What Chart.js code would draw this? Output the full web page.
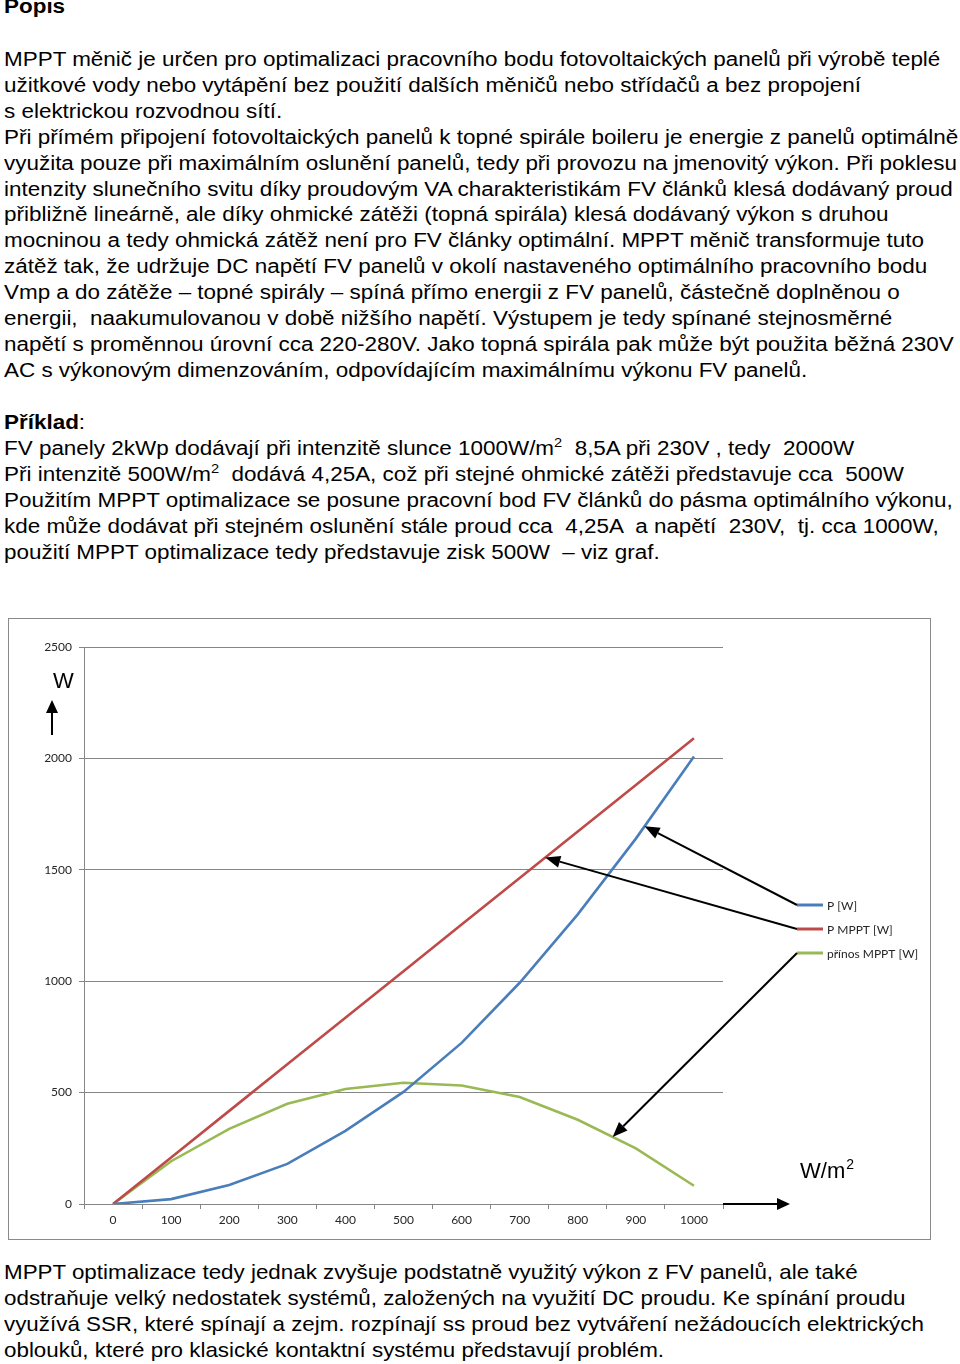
<!DOCTYPE html>
<html>
<head>
<meta charset="utf-8">
<script src="https://cdn.jsdelivr.net/npm/chart.js@4.4.1/dist/chart.umd.min.js"></script>
<style>
  html, body { margin: 0; padding: 0; background: #fff; }
  body { width: 960px; height: 1364px; position: relative; overflow: hidden; font-family: "Liberation Sans", Arial, sans-serif; color: #000; }
  .txt { position: absolute; left: 4px; font-size: 20px; line-height: 25.9px; white-space: pre; transform-origin: 0 0; transform: scaleX(1.122); }
  .txt sup { font-size: 13px; line-height: 0; vertical-align: 8px; }
  .last { font-size: 21px; transform: scaleX(1.065); }
  #box { position: absolute; left: 8px; top: 618px; width: 923px; height: 622px; border: 1px solid #8a8a8a; box-sizing: border-box; }
</style>
</head>
<body>
<div class="txt" style="top:-6px;font-weight:bold;">Popis</div>
<div class="txt" style="top:47px;">MPPT měnič je určen pro optimalizaci pracovního bodu fotovoltaických panelů při výrobě teplé
užitkové vody nebo vytápění bez použití dalších měničů nebo střídačů a bez propojení
s elektrickou rozvodnou sítí.
Při přímém připojení fotovoltaických panelů k topné spirále boileru je energie z panelů optimálně
využita pouze při maximálním oslunění panelů, tedy při provozu na jmenovitý výkon. Při poklesu
intenzity slunečního svitu díky proudovým VA charakteristikám FV článků klesá dodávaný proud
přibližně lineárně, ale díky ohmické zátěži (topná spirála) klesá dodávaný výkon s druhou
mocninou a tedy ohmická zátěž není pro FV články optimální. MPPT měnič transformuje tuto
zátěž tak, že udržuje DC napětí FV panelů v okolí nastaveného optimálního pracovního bodu
Vmp a do zátěže – topné spirály – spíná přímo energii z FV panelů, částečně doplněnou o
energii,  naakumulovanou v době nižšího napětí. Výstupem je tedy spínané stejnosměrné
napětí s proměnnou úrovní cca 220-280V. Jako topná spirála pak může být použita běžná 230V
AC s výkonovým dimenzováním, odpovídajícím maximálnímu výkonu FV panelů.</div>
<div class="txt" style="top:410px;"><b>Příklad</b>:
FV panely 2kWp dodávají při intenzitě slunce 1000W/m<sup>2</sup>  8,5A při 230V , tedy  2000W
Při intenzitě 500W/m<sup>2</sup>  dodává 4,25A, což při stejné ohmické zátěži představuje cca  500W
Použitím MPPT optimalizace se posune pracovní bod FV článků do pásma optimálního výkonu,
kde může dodávat při stejném oslunění stále proud cca  4,25A  a napětí  230V,  tj. cca 1000W,
použití MPPT optimalizace tedy představuje zisk 500W  – viz graf.</div>
<div id="box"><canvas id="chart"></canvas></div>
<div class="txt last" style="top:1259px;">MPPT optimalizace tedy jednak zvyšuje podstatně využitý výkon z FV panelů, ale také
odstraňuje velký nedostatek systémů, založených na využití DC proudu. Ke spínání proudu
využívá SSR, které spínají a zejm. rozpínají ss proud bez vytváření nežádoucích elektrických
oblouků, které pro klasické kontaktní systému představují problém.</div>

<script>
// irradiance categories (W/m2)
const irradiance = ["0", "100", "200", "300", "400", "500", "600", "700", "800", "900", "1000"];
// output power without MPPT
const powerPlain = [0, 22, 85, 180, 328, 503, 723, 993, 1300, 1640, 2008];
// output power with MPPT
const powerMppt = [0, 209, 418, 627, 836, 1045, 1254, 1463, 1672, 1881, 2090];
// gain from MPPT
const powerGain = [0, 192, 337, 450, 516, 544, 532, 480, 378, 250, 82];

const seriesLabels = ["P [W]", "P MPPT [W]", "přínos MPPT [W]"];
const seriesColors = ["#4a7ebb", "#be4b48", "#98b954"];
const yTicks = [0, 500, 1000, 1500, 2000, 2500];

// where the pointer arrows hit each series (fractional category index)
const arrowAt = [9.15, 7.44, 8.6];

const gridColor = "#868686";
const tickColor = "#262626";
const tickFont = { family: "Lato, 'Open Sans', sans-serif", size: 12 };

function drawArrow(ctx, x1, y1, x2, y2, headLen, headW) {
  const ang = Math.atan2(y2 - y1, x2 - x1);
  const bx = x2 - Math.cos(ang) * headLen;
  const by = y2 - Math.sin(ang) * headLen;
  ctx.beginPath();
  ctx.moveTo(x1, y1);
  ctx.lineTo(bx, by);
  ctx.stroke();
  ctx.beginPath();
  ctx.moveTo(x2, y2);
  ctx.lineTo(bx + Math.sin(ang) * headW / 2, by - Math.cos(ang) * headW / 2);
  ctx.lineTo(bx - Math.sin(ang) * headW / 2, by + Math.cos(ang) * headW / 2);
  ctx.closePath();
  ctx.fill();
}

function pointAlong(meta, at) {
  const i = Math.floor(at);
  const f = at - i;
  const a = meta.data[i];
  const b = meta.data[Math.min(i + 1, meta.data.length - 1)];
  return { x: a.x + (b.x - a.x) * f, y: a.y + (b.y - a.y) * f };
}

// legend, pointer arrows and axis captions
const annotations = {
  id: "annotations",
  afterDatasetsDraw(chart) {
    const ctx = chart.ctx;
    const area = chart.chartArea;
    ctx.save();

    // legend
    const lx = area.right + 74;
    const ly = area.top + 258;
    ctx.font = "12px Lato, 'Open Sans', sans-serif";
    ctx.textBaseline = "middle";
    chart.data.datasets.forEach((ds, i) => {
      const y = ly + i * 24;
      ctx.strokeStyle = ds.borderColor;
      ctx.lineWidth = 3;
      ctx.beginPath();
      ctx.moveTo(lx, y);
      ctx.lineTo(lx + 26, y);
      ctx.stroke();
      ctx.fillStyle = tickColor;
      ctx.fillText(ds.label, lx + 30, y + 1);
    });

    // arrows from legend to the curves
    ctx.strokeStyle = "#000";
    ctx.fillStyle = "#000";
    ctx.lineWidth = 2;
    arrowAt.forEach((at, i) => {
      const p = pointAlong(chart.getDatasetMeta(i), at);
      drawArrow(ctx, lx, ly + i * 24, p.x, p.y, 15, 12);
    });

    // y caption
    ctx.font = "22px 'Liberation Sans', Arial, sans-serif";
    ctx.textBaseline = "alphabetic";
    ctx.fillText("W", area.left - 31, area.top + 41);
    drawArrow(ctx, area.left - 32, area.top + 88, area.left - 32, area.top + 53, 13, 12);

    // x caption
    drawArrow(ctx, area.right, area.bottom, area.right + 67, area.bottom, 13, 12);
    ctx.fillText("W/m", area.right + 77, area.bottom - 26);
    const w = ctx.measureText("W/m").width;
    ctx.font = "14px 'Liberation Sans', Arial, sans-serif";
    ctx.fillText("2", area.right + 77 + w + 1, area.bottom - 35);

    ctx.restore();
  }
};

const ctx = document.getElementById("chart").getContext("2d");
new Chart(ctx, {
  type: "line",
  data: {
    labels: irradiance,
    datasets: [powerPlain, powerMppt, powerGain].map((vals, i) => ({
      label: seriesLabels[i],
      data: vals,
      borderColor: seriesColors[i],
      backgroundColor: seriesColors[i],
      borderWidth: 2.6,
      pointRadius: 0,
      tension: 0,
      fill: false
    }))
  },
  options: {
    responsive: true,
    maintainAspectRatio: false,
    animation: false,
    layout: { padding: { top: 28, right: 207, left: 0, bottom: 0 } },
    plugins: {
      legend: { display: false },
      tooltip: { enabled: false }
    },
    scales: {
      x: {
        type: "category",
        offset: true,
        afterFit: scale => { scale.height = 35; },
        grid: { offset: true, drawOnChartArea: false, drawTicks: true, tickLength: 5, color: gridColor },
        border: { display: true, color: gridColor, width: 1 },
        ticks: { color: tickColor, font: tickFont, padding: 4, maxRotation: 0, autoSkip: false }
      },
      y: {
        min: 0,
        max: 2500,
        afterFit: scale => { scale.width = 75; },
        afterBuildTicks: scale => { scale.ticks = yTicks.map(v => ({ value: v })); },
        grid: { color: gridColor, tickLength: 5, lineWidth: 1 },
        border: { display: true, color: gridColor, width: 1 },
        ticks: { color: tickColor, font: tickFont, padding: 7, callback: v => String(v) }
      }
    }
  },
  plugins: [annotations]
});
</script>
</body>
</html>
